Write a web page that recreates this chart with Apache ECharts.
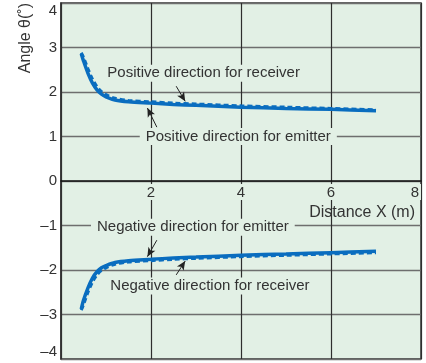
<!DOCTYPE html>
<html>
<head>
<meta charset="utf-8">
<script src="https://cdn.jsdelivr.net/npm/echarts@6/dist/echarts.min.js"></script>
<style>
  html, body { margin: 0; padding: 0; background: #ffffff; }
  #chart { width: 426px; height: 363px; }
</style>
</head>
<body>
<div id="chart"></div>
<script>
// Distance (m) at which the angle was measured
const distance = [0.45, 0.5, 0.6, 0.7, 0.8, 0.9, 1.0, 1.2, 1.5, 2, 2.5, 3, 4, 5, 6, 7];

// Angle (deg) for each direction
const posEmitter  = [2.86, 2.70, 2.42, 2.20, 2.05, 1.95, 1.89, 1.82, 1.78, 1.75, 1.72, 1.70, 1.66, 1.63, 1.61, 1.58];
const posReceiver = [2.88, 2.78, 2.52, 2.29, 2.12, 2.01, 1.94, 1.86, 1.81, 1.78, 1.75, 1.73, 1.69, 1.66, 1.63, 1.60];
const negEmitter  = [-2.88, -2.68, -2.40, -2.18, -2.04, -1.95, -1.90, -1.83, -1.79, -1.76, -1.73, -1.71, -1.67, -1.64, -1.61, -1.58];
const negReceiver = [-2.90, -2.78, -2.50, -2.27, -2.11, -2.01, -1.95, -1.87, -1.82, -1.79, -1.76, -1.74, -1.70, -1.67, -1.64, -1.61];

// Axis tick labels
const xTicks = [2, 4, 6, 8];
const yTicks = [-4, -3, -2, -1, 0, 1, 2, 3, 4];

// Callout texts: [text, anchor x, anchor y]
const callouts = [
  ['Positive direction for receiver', 3.17, 2.42],
  ['Positive direction for emitter', 3.94, 1.0],
  ['Negative direction for emitter', 2.93, -1.04],
  ['Negative direction for receiver', 3.31, -2.36]
];
// Callout arrows: [from x, from y, to x, to y]
const arrows = [
  [2.56, 2.13, 2.76, 1.79],
  [2.13, 1.21, 1.92, 1.64],
  [2.13, -1.33, 1.92, -1.70],
  [2.56, -2.11, 2.76, -1.80]
];

const FONT = '"Liberation Sans", Arial, Helvetica, sans-serif';
const PLOT_BG = '#e2f0e5';
const BLUE = '#0a6dbf';
const TEXT = '#333333';

const GRID = { left: 61, right: 5, top: 3, bottom: 4 };
const PLOT_H = 363 - GRID.top - GRID.bottom;

const pairs = ys => distance.map((x, i) => [x, ys[i]]);
const fmtY = v => (v < 0 ? '\u2013' + Math.abs(v) : String(v));

const chart = echarts.init(document.getElementById('chart'), null, { renderer: 'canvas' });

chart.setOption({
  animation: false,
  backgroundColor: '#ffffff',
  textStyle: { fontFamily: FONT },
  grid: {
    left: GRID.left, right: GRID.right, top: GRID.top, bottom: GRID.bottom,
    outerBoundsMode: 'none',
    containLabel: false,
    show: true,
    backgroundColor: PLOT_BG,
    borderColor: '#333333',
    borderWidth: 1.5
  },
  xAxis: {
    type: 'value',
    min: 0, max: 8, interval: 2,
    // the axis (line, labels, name) sits on the zero line, mid-height
    offset: -PLOT_H / 2,
    name: 'Distance X (m)',
    nameLocation: 'end',
    nameGap: -6,
    nameTextStyle: {
      align: 'right', verticalAlign: 'top',
      fontSize: 16, color: TEXT, fontFamily: FONT,
      padding: [24, 0, 0, 0]
    },
    axisLine: { onZero: false, lineStyle: { color: '#111111', width: 1.5 } },
    axisTick: { show: false },
    axisLabel: {
      showMinLabel: false,
      alignMaxLabel: 'right',
      margin: 3,
      fontSize: 15,
      color: TEXT,
      fontFamily: FONT,
      backgroundColor: PLOT_BG,
      padding: [1, 2, 0, 2],
      formatter: v => (xTicks.indexOf(v) >= 0 ? String(v) : '')
    },
    splitLine: { show: true, lineStyle: { color: '#2e2e2e', width: 1.2 } }
  },
  yAxis: {
    type: 'value',
    min: -4, max: 4, interval: 1,
    axisLine: { show: true, onZero: false, lineStyle: { color: '#333333', width: 1.5 } },
    axisTick: { show: false },
    axisLabel: {
      margin: 4,
      fontSize: 15,
      color: TEXT,
      fontFamily: FONT,
      verticalAlignMaxLabel: 'top',
      verticalAlignMinLabel: 'bottom',
      formatter: v => (yTicks.indexOf(v) >= 0 ? fmtY(v) : '')
    },
    splitLine: { show: true, lineStyle: { color: '#6e6e6e', width: 1.4 } }
  },
  graphic: [{
    type: 'text',
    left: 18, top: 3,
    rotation: Math.PI / 2,
    style: {
      text: 'Angle \u03b8(\u02da)',
      font: '16px ' + FONT,
      fill: TEXT
    }
  }],
  series: [
    {
      name: 'Positive direction for emitter',
      type: 'line', data: pairs(posEmitter), smooth: 0.3,
      symbol: 'none', z: 3,
      lineStyle: { color: BLUE, width: 3.5 },
      markLine: {
        silent: true, symbol: ['none', 'arrow'], symbolSize: [6, 9],
        label: { show: false },
        lineStyle: { color: '#222222', width: 1, type: 'solid' },
        data: arrows.map(a => [{ coord: [a[0], a[1]] }, { coord: [a[2], a[3]] }])
      },
      markPoint: {
        silent: true, symbol: 'rect', symbolSize: 1,
        itemStyle: { color: 'rgba(0,0,0,0)' },
        label: {
          show: true, position: 'inside',
          fontSize: 15, color: TEXT, fontFamily: FONT,
          backgroundColor: PLOT_BG, padding: [1, 6, 1, 6],
          formatter: p => p.name
        },
        data: callouts.map(c => ({ name: c[0], coord: [c[1], c[2]] }))
      }
    },
    {
      name: 'Positive direction for receiver',
      type: 'line', data: pairs(posReceiver), smooth: 0.3,
      symbol: 'none', z: 4,
      lineStyle: { color: BLUE, width: 3, type: [5, 3] }
    },
    {
      name: 'Negative direction for emitter',
      type: 'line', data: pairs(negEmitter), smooth: 0.3,
      symbol: 'none', z: 3,
      lineStyle: { color: BLUE, width: 3.5 }
    },
    {
      name: 'Negative direction for receiver',
      type: 'line', data: pairs(negReceiver), smooth: 0.3,
      symbol: 'none', z: 4,
      lineStyle: { color: BLUE, width: 3, type: [5, 3] }
    }
  ]
});
</script>
</body>
</html>
